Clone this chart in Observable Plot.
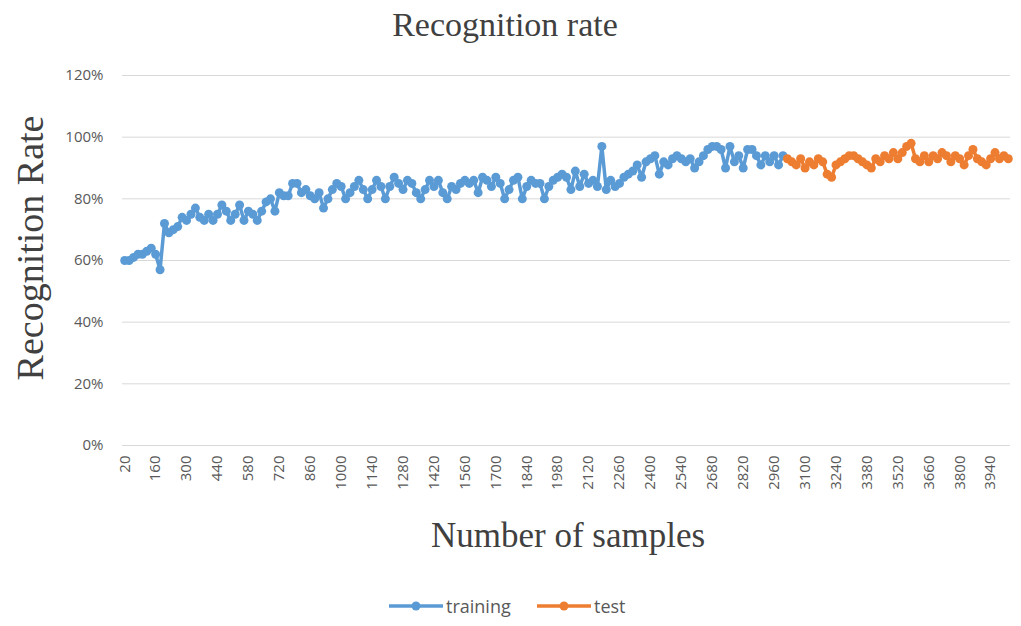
<!DOCTYPE html>
<html><head><meta charset="utf-8">
<script src="https://cdn.jsdelivr.net/npm/d3@7"></script>
<script src="https://cdn.jsdelivr.net/npm/@observablehq/plot@0.6"></script>
<style>
body{margin:0;background:#fff;}
#wrap{position:relative;width:1021px;height:626px;overflow:hidden;background:#fff;}
#wrap > svg{position:absolute;left:0;top:0;}
.serif{position:absolute;font-family:"Liberation Serif","Times New Roman",serif;color:#404040;white-space:nowrap;line-height:1;}
#legend{position:absolute;left:0;top:594px;width:1021px;height:24px;font-family:"Open Sans",sans-serif;font-size:18px;color:#595959;}
.lg{position:absolute;top:0;display:flex;align-items:center;height:24px;}
.lg svg{margin-right:2px;}
</style></head><body>
<div id="wrap">
  <div class="serif" style="left:0;width:1010px;text-align:center;top:8px;font-size:34px;">Recognition rate</div>
  <div class="serif" style="left:30px;top:248px;font-size:38px;transform:translate(-50%,-50%) rotate(-90deg);">Recognition Rate</div>
  <div class="serif" style="left:0;width:1136px;text-align:center;top:518px;font-size:35px;">Number of samples</div>
  <div id="legend"></div>
</div>
<script>
// x categories: number of samples, 20 to 4020 in steps of 20
const categories = d3.range(20, 4021, 20);
const xTickLabels = [20,160,300,440,580,720,860,1000,1140,1280,1420,1560,1700,1840,1980,2120,2260,2400,2540,2680,2820,2960,3100,3240,3380,3520,3660,3800,3940];
const yTicks = [0,0.2,0.4,0.6,0.8,1.0,1.2];
const seriesNames = ["training","test"];
const seriesColors = ["#5b9bd5","#ed7d31"];

// recognition rate (%) for training samples 20..3000
const training = [
60,60,61,62,62,63,64,62,57,72,
69,70,71,74,73,75,77,74,73,75,
73,75,78,76,73,75,78,73,76,75,
73,76,79,80,76,82,81,81,85,85,
82,83,81,80,82,77,80,83,85,84,
80,82,84,86,83,80,83,86,84,80,
84,87,85,83,86,85,82,80,83,86,
84,86,82,80,84,83,85,86,85,86,
82,87,86,84,87,85,80,83,86,87,
80,84,86,85,85,80,84,86,87,88,
87,83,89,84,88,85,86,84,97,83,
86,84,85,87,88,89,91,87,92,93,
94,88,92,91,93,94,93,92,93,90,
92,94,96,97,97,96,90,97,92,94,
90,96,96,94,91,94,92,94,91,94
];
// recognition rate (%) for test samples 3020..4020
const test = [
93,92,91,93,90,92,91,93,92,88,
87,91,92,93,94,94,93,92,91,90,
93,92,94,93,95,93,95,97,98,93,
92,94,92,94,93,95,94,92,94,93,
91,94,96,93,92,91,93,95,93,94,93
];

const trainData = training.map((v,i)=>({n:categories[i], v:v/100}));
const testData = test.map((v,i)=>({n:categories[training.length+i], v:v/100}));

const chart = Plot.plot({
  width: 1021, height: 626,
  marginLeft: 122, marginRight: 11, marginTop: 75, marginBottom: 181,
  x: {type: "point", domain: categories, padding: 0.5},
  y: {domain: [0, 1.2]},
  style: {fontFamily: "'Open Sans', sans-serif", fontSize: "15px", color: "#595959", background: "transparent", overflow: "visible"},
  marks: [
    Plot.gridY(yTicks, {stroke: "#d9d9d9", strokeOpacity: 1, strokeWidth: 1}),
    Plot.axisY(yTicks, {tickFormat: d3.format(".0%"), tickSize: 0, tickPadding: 19, label: null, fontSize: 15}),
    Plot.axisX(xTickLabels, {tickFormat: d => String(d), tickRotate: -90, tickSize: 0, tickPadding: 10, label: null, fontSize: 15}),
    Plot.line(trainData, {x: "n", y: "v", stroke: seriesColors[0], strokeWidth: 3.5}),
    Plot.dot(trainData, {x: "n", y: "v", r: 4.5, fill: seriesColors[0]}),
    Plot.line(testData, {x: "n", y: "v", stroke: seriesColors[1], strokeWidth: 3.5}),
    Plot.dot(testData, {x: "n", y: "v", r: 4.5, fill: seriesColors[1]})
  ]
});
document.getElementById("wrap").insertBefore(chart, document.getElementById("wrap").firstChild);

// legend
const legend = document.getElementById("legend");
const lefts = [388, 536];
seriesNames.forEach((name, i) => {
  const d = document.createElement("div");
  d.className = "lg";
  d.style.left = lefts[i] + "px";
  d.innerHTML = `<svg width="56" height="24"><line x1="1" y1="12" x2="55" y2="12" stroke="${seriesColors[i]}" stroke-width="3.5"/><circle cx="28" cy="12" r="4.5" fill="${seriesColors[i]}"/></svg><span>${name}</span>`;
  legend.appendChild(d);
});
</script>
</body></html>
